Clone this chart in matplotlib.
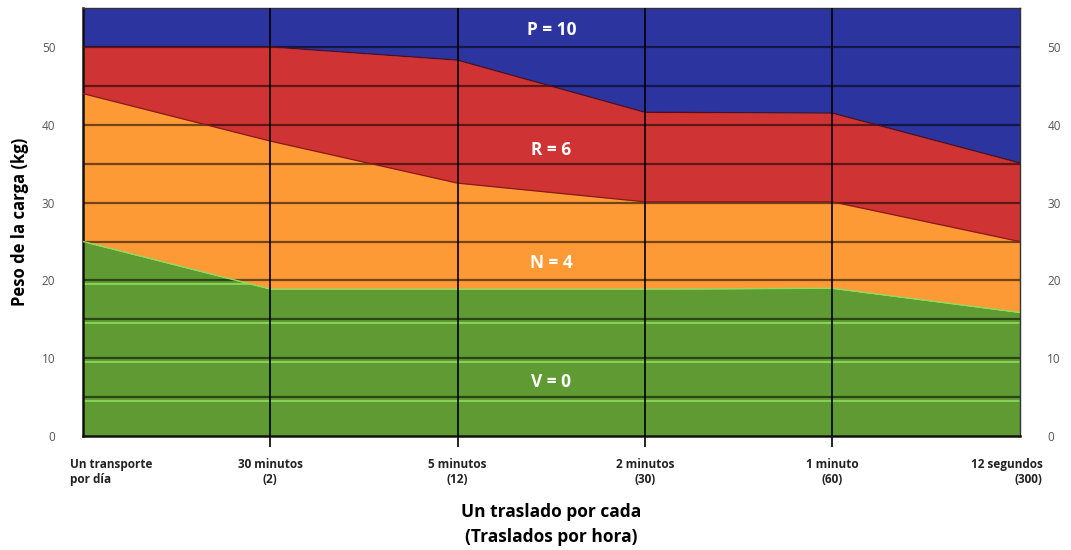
import matplotlib
matplotlib.use("Agg")
import matplotlib.pyplot as plt
import matplotlib.transforms as mtransforms
import numpy as np

# categories along x and upper boundary of each zone (kg)
categories = ["Un transporte\npor día", "30 minutos\n(2)", "5 minutos\n(12)",
              "2 minutos\n(30)", "1 minuto\n(60)", "12 segundos\n(300)"]
green_top = [25.0, 18.9, 18.9, 18.9, 19.0, 15.9]
orange_top = [44.0, 37.9, 32.5, 30.1, 30.1, 25.0]
red_top = [50.0, 50.0, 48.3, 41.6, 41.5, 35.1]
y_max = 55

zone_labels = ["V = 0", "N = 4", "R = 6", "P = 10"]
zone_label_y = [6.9, 22.2, 36.8, 52.2]

C_GREEN = "#5f9b32"
C_ORANGE = "#fd9a35"
C_RED = "#d03333"
C_BLUE = "#2c34a0"

plt.rcParams["font.family"] = ["Open Sans", "DejaVu Sans"]

fig = plt.figure(figsize=(10.71, 5.5), dpi=100)
ax = fig.add_axes([0.0775, 0.207, 0.8745, 0.7785])

x = np.arange(len(categories))
top = np.full(len(x), y_max)

green_poly = ax.fill_between(x, 0, green_top, color=C_GREEN, lw=0, zorder=1)
ax.fill_between(x, green_top, orange_top, color=C_ORANGE, lw=0, zorder=1)
ax.fill_between(x, orange_top, red_top, color=C_RED, lw=0, zorder=1)
ax.fill_between(x, red_top, top, color=C_BLUE, lw=0, zorder=1)

# horizontal grid lines
for yv in range(5, y_max, 5):
    ax.axhline(yv, color="black", alpha=0.55, lw=1.6, zorder=2)

# light highlight lines inside the green zone
for yv in range(5, 25, 5):
    ln, = ax.plot([0, 5], [yv - 0.45, yv - 0.45], color="#8fdc5c", lw=1.2, zorder=2)
    ln.set_clip_path(green_poly.get_paths()[0], ax.transData)

# zone boundary lines
ax.plot(x, green_top, color="#8fdc5c", lw=1.0, zorder=3)
ax.plot(x, orange_top, color="#8a1a10", lw=0.9, zorder=3)
ax.plot(x, red_top, color="#5a0a10", lw=0.9, zorder=3)

# vertical lines at each category
for xv in x[1:-1]:
    ax.axvline(xv, color="black", lw=1.2, zorder=3)

for lab, yv in zip(zone_labels, zone_label_y):
    ax.text(2.5, yv, lab, color="white", fontsize=12.5, fontweight="bold",
            ha="center", va="center", zorder=4)

ax.set_xlim(0, 5)
ax.set_ylim(0, y_max)
ax.set_yticks(range(0, 51, 10))
ax.tick_params(axis="y", length=0, labelsize=8.5, labelcolor="#555555",
               pad=20, right=True, labelright=True)
ax.set_xticks(x)
ax.set_xticklabels(categories, fontsize=8.5, fontweight="bold", color="#222222")
ax.tick_params(axis="x", length=8, width=1.2, color="black", pad=8)
major = ax.xaxis.get_major_ticks()
major[0].tick1line.set_visible(False)
major[-1].tick1line.set_visible(False)

ticklabels = ax.get_xticklabels()
ticklabels[0].set_ha("left")
ticklabels[0].set_multialignment("left")
ticklabels[0].set_transform(ticklabels[0].get_transform() +
                            mtransforms.ScaledTranslation(-0.13, 0, fig.dpi_scale_trans))
ticklabels[-1].set_ha("right")
ticklabels[-1].set_transform(ticklabels[-1].get_transform() +
                             mtransforms.ScaledTranslation(0.23, 0, fig.dpi_scale_trans))
for t in ticklabels[1:-1]:
    t.set_multialignment("center")

for side in ["left", "bottom"]:
    ax.spines[side].set_color("#111111")
    ax.spines[side].set_linewidth(1.8)
for side in ["top", "right"]:
    ax.spines[side].set_color("#333333")
    ax.spines[side].set_linewidth(1.0)

ax.set_ylabel("Peso de la carga (kg)", fontsize=12, fontweight="bold", labelpad=9)
ax.set_xlabel("Un traslado por cada\n(Traslados por hora)", fontsize=12.5,
              fontweight="bold", labelpad=12, linespacing=1.5)

fig.savefig("out.png", dpi=100)
